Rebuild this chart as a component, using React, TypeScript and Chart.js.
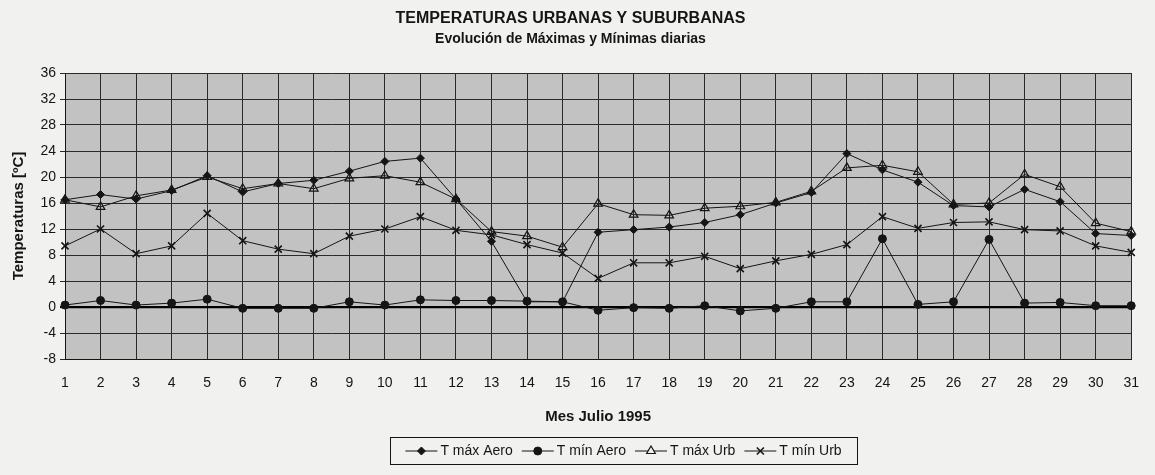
import React, { useEffect, useRef } from 'react';
import { Chart, registerables } from 'chart.js';
import { drawPoint } from 'chart.js/helpers';

Chart.register(...registerables);

const days = ['1','2','3','4','5','6','7','8','9','10','11','12','13','14','15','16','17','18','19','20','21','22','23','24','25','26','27','28','29','30','31'];

const tMaxAero = [16.5, 17.3, 16.6, 17.9, 20.2, 17.7, 19.0, 19.5, 20.9, 22.4, 22.9, 16.6, 10.1, 0.8, 0.8, 11.5, 11.9, 12.3, 13.0, 14.2, 16.0, 17.6, 23.6, 21.1, 19.2, 15.6, 15.4, 18.1, 16.2, 11.3, 11.0];
const tMinAero = [0.3, 1.0, 0.3, 0.6, 1.2, -0.2, -0.2, -0.2, 0.8, 0.3, 1.1, 1.0, 1.0, 0.9, 0.8, -0.5, -0.1, -0.2, 0.2, -0.6, -0.2, 0.8, 0.8, 10.5, 0.4, 0.8, 10.4, 0.6, 0.7, 0.2, 0.2];
const tMaxUrb = [16.5, 15.4, 17.1, 18.0, 20.0, 18.2, 19.0, 18.2, 19.8, 20.2, 19.2, 16.6, 11.6, 10.9, 9.2, 15.9, 14.2, 14.1, 15.2, 15.5, 16.1, 17.8, 21.4, 21.8, 20.8, 15.8, 16.0, 20.4, 18.5, 12.9, 11.6];
const tMinUrb = [9.4, 12.0, 8.2, 9.4, 14.4, 10.2, 8.9, 8.2, 10.9, 12.0, 13.9, 11.8, 11.1, 9.6, 8.3, 4.4, 6.8, 6.8, 7.8, 5.9, 7.1, 8.1, 9.6, 13.9, 12.1, 13.0, 13.1, 11.9, 11.7, 9.4, 8.4];

const seriesNames = ['T máx Aero', 'T mín Aero', 'T máx Urb', 'T mín Urb'];
const titleText = 'TEMPERATURAS URBANAS Y SUBURBANAS';
const subtitleText = 'Evolución de Máximas y Mínimas diarias';
const xTitle = 'Mes Julio 1995';
const yTitle = 'Temperaturas [ºC]';

const FONT = "'Liberation Sans', Arial, Helvetica, sans-serif";
const INK = '#151515';
const PAPER = '#f1f1ef';
const PLOT_BG = '#c2c2c2';

const styles = [
  { pointStyle: 'rectRot', radius: 4, fill: INK, bw: 1 },
  { pointStyle: 'circle', radius: 4, fill: INK, bw: 1 },
  { pointStyle: 'triangle', radius: 5, fill: 'rgba(0,0,0,0)', bw: 1.2 },
  { pointStyle: 'crossRot', radius: 5, fill: INK, bw: 1.6 },
];

const plotBgPlugin = {
  id: 'plotBg',
  beforeDraw(chart: any) {
    const { ctx, chartArea } = chart;
    ctx.save();
    ctx.fillStyle = PLOT_BG;
    ctx.fillRect(chartArea.left, chartArea.top, chartArea.right - chartArea.left, chartArea.bottom - chartArea.top);
    ctx.restore();
  },
};

const legendBoxPlugin = {
  id: 'legendBox',
  afterDraw(chart: any) {
    const { ctx } = chart;
    const boxL = 390, boxT = 437, boxW = 467, boxH = 27;
    ctx.save();
    ctx.strokeStyle = INK;
    ctx.lineWidth = 1;
    ctx.strokeRect(boxL + 0.5, boxT + 0.5, boxW, boxH);
    ctx.font = `14px ${FONT}`;
    ctx.textBaseline = 'middle';
    ctx.textAlign = 'left';
    const lineLen = 32, gap = 3, spacing = 9;
    const widths = seriesNames.map((n) => lineLen + gap + ctx.measureText(n).width);
    const total = widths.reduce((a, b) => a + b, 0) + spacing * (seriesNames.length - 1);
    let x = boxL + boxW / 2 - total / 2;
    const cy = boxT + boxH / 2 + 0.5;
    seriesNames.forEach((name, i) => {
      const st = styles[i];
      ctx.strokeStyle = INK;
      ctx.lineWidth = 1;
      ctx.beginPath();
      ctx.moveTo(x, cy);
      ctx.lineTo(x + lineLen, cy);
      ctx.stroke();
      ctx.fillStyle = st.fill === 'rgba(0,0,0,0)' ? PAPER : st.fill;
      ctx.strokeStyle = INK;
      ctx.lineWidth = st.bw;
      drawPoint(ctx, { pointStyle: st.pointStyle as any, radius: st.radius, rotation: 0, borderWidth: st.bw } as any, x + lineLen / 2, cy);
      ctx.fillStyle = INK;
      ctx.fillText(name, x + lineLen + gap, cy);
      x += widths[i] + spacing;
    });
    ctx.restore();
  },
};

export default function App() {
  const ref = useRef<HTMLCanvasElement | null>(null);

  useEffect(() => {
    document.body.style.margin = '0';
    document.body.style.background = PAPER;
    Chart.defaults.font.family = FONT;
    Chart.defaults.color = INK;

    const datasets = [tMaxAero, tMinAero, tMaxUrb, tMinUrb].map((data, i) => ({
      label: seriesNames[i],
      data,
      borderColor: INK,
      borderWidth: 1,
      backgroundColor: styles[i].fill,
      pointStyle: styles[i].pointStyle as any,
      pointRadius: styles[i].radius,
      pointBorderColor: INK,
      pointBackgroundColor: styles[i].fill,
      pointBorderWidth: styles[i].bw,
      tension: 0,
      fill: false,
    }));

    const chart = new Chart(ref.current as HTMLCanvasElement, {
      type: 'line',
      data: { labels: days, datasets },
      options: {
        animation: false,
        responsive: false,
        maintainAspectRatio: false,
        devicePixelRatio: 1,
        layout: { padding: { left: 4, right: 18, top: 0, bottom: 49 } },
        plugins: {
          legend: { display: false },
          tooltip: { enabled: false },
          title: {
            display: true,
            text: titleText,
            color: INK,
            font: { size: 16, weight: 'bold', family: FONT },
            padding: { top: 9, bottom: 0 },
          },
          subtitle: {
            display: true,
            text: subtitleText,
            color: INK,
            font: { size: 14, weight: 'bold', family: FONT },
            padding: { top: 3, bottom: 25 },
          },
        },
        scales: {
          x: {
            type: 'category',
            offset: false,
            grid: { color: '#2a2a2a', lineWidth: 1, drawTicks: false },
            border: { display: true, color: INK, width: 1 },
            ticks: { color: INK, font: { size: 14, family: FONT }, padding: 16, maxRotation: 0, autoSkip: false },
            title: { display: true, text: xTitle, color: INK, font: { size: 15, weight: 'bold', family: FONT }, padding: { top: 0, bottom: 0 } },
            afterFit: (s: any) => { s.height = 67; },
          },
          y: {
            min: -8,
            max: 36,
            grid: {
              color: (c: any) => (c.tick && c.tick.value === 0 ? '#000' : '#2a2a2a'),
              lineWidth: (c: any) => (c.tick && c.tick.value === 0 ? 2.2 : 1),
              drawTicks: true,
              tickLength: 5,
            },
            border: { display: true, color: INK, width: 1 },
            ticks: { stepSize: 4, color: INK, font: { size: 14, family: FONT }, padding: 4 },
            title: { display: true, text: yTitle, color: INK, font: { size: 15, weight: 'bold', family: FONT }, padding: { top: 6, bottom: 0 } },
            afterFit: (s: any) => { s.width = 61; },
          },
        },
      },
      plugins: [plotBgPlugin, legendBoxPlugin],
    });
    return () => chart.destroy();
  }, []);

  return (
    <div style={{ width: 1155, height: 475, background: PAPER }}>
      <canvas ref={ref} width={1155} height={475} style={{ display: 'block', width: 1155, height: 475 }} />
    </div>
  );
}
